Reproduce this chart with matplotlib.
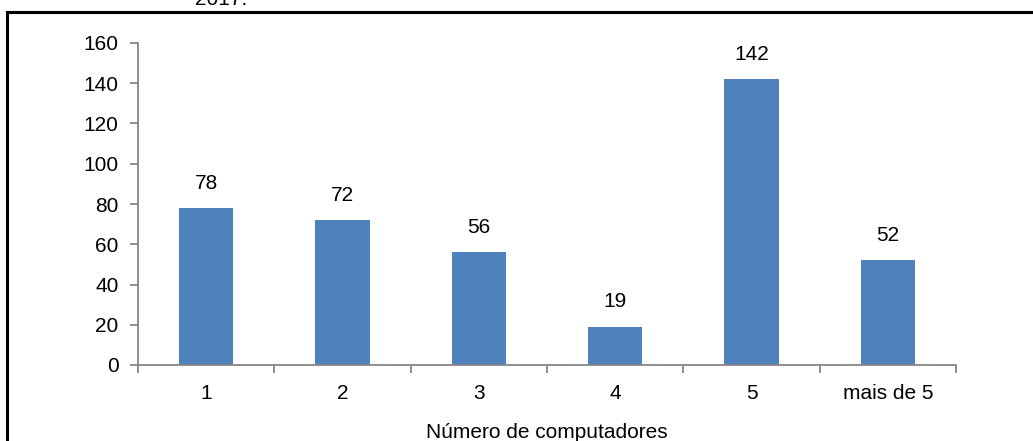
import matplotlib.pyplot as plt
from matplotlib.lines import Line2D

plt.rcParams['font.family'] = ['Liberation Sans', 'DejaVu Sans']

# Data
categories = ['1', '2', '3', '4', '5', 'mais de 5']
values = [78, 72, 56, 19, 142, 52]
y_ticks = [0, 20, 40, 60, 80, 100, 120, 140, 160]

W, H = 1033, 441
fig = plt.figure(figsize=(W / 100, H / 100), dpi=100)
ax = fig.add_axes([138 / W, 1 - 365 / H, (956 - 138) / W, (365 - 43) / H])

x = list(range(len(categories)))
bars = ax.bar(x, values, width=0.4, color='#4F81BD')

for xi, v in zip(x, values):
    ax.annotate(str(v), (xi, v), xytext=(0, 11), textcoords='offset points',
                ha='center', va='bottom', fontsize=15, color='black')

ax.set_xlim(-0.5, len(categories) - 0.5)
ax.set_ylim(0, 160)
ax.set_yticks(y_ticks)
ax.set_xticks(x)
ax.set_xticklabels(categories)
ax.set_xticks([i + 0.5 for i in range(-1, len(categories))], minor=True)

for s in ['top', 'right']:
    ax.spines[s].set_visible(False)
for s in ['left', 'bottom']:
    ax.spines[s].set_color('#868686')
    ax.spines[s].set_linewidth(1.3)

ax.tick_params(axis='y', length=6, width=1.3, color='#868686', labelsize=15, pad=8)
ax.tick_params(axis='x', which='major', length=0, labelsize=15, pad=14)
ax.tick_params(axis='x', which='minor', length=6, width=1.3, color='#868686')

ax.set_xlabel('Número de computadores', fontsize=15, labelpad=14)

# outer frame and cut-off caption
fig.add_artist(Line2D([7 / W, 7 / W], [0, 1 - 12 / H], color='black', lw=2.2))
fig.add_artist(Line2D([7 / W, 1], [1 - 12 / H, 1 - 12 / H], color='black', lw=2.2))
fig.text(195 / W, 1 - 5 / H, '2017.', fontsize=15, va='baseline', ha='left')

fig.savefig('out.png', dpi=100)
